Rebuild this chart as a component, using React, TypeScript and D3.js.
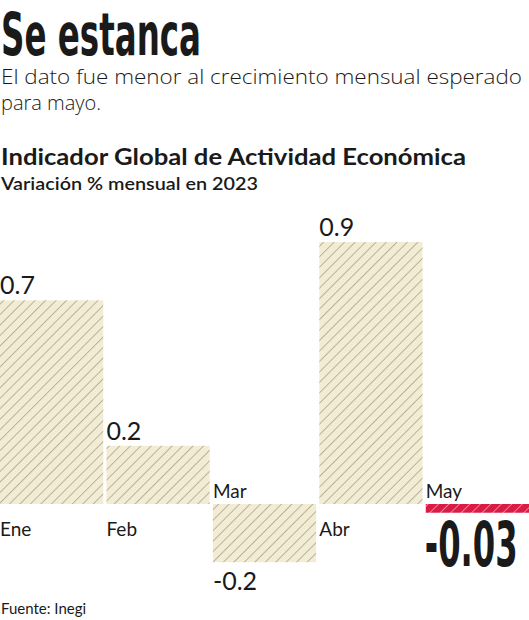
import React, { useEffect, useRef } from "react";
import * as d3 from "d3";

const months = ["Ene", "Feb", "Mar", "Abr", "May"];
const values = [0.7, 0.2, -0.2, 0.9, -0.03];
const valueLabels = ["0.7", "0.2", "-0.2", "0.9", "-0.03"];
const highlight = "May";

const W = 529;
const H = 620;
const sans = "Lato, 'Open Sans', 'DejaVu Sans', sans-serif";
const light = "'Open Sans', Lato, 'DejaVu Sans', sans-serif";
const narrow = "'Liberation Sans Narrow', 'DejaVu Sans Condensed', sans-serif";

const App = () => {
  const ref = useRef(null);

  useEffect(() => {
    const svg = d3.select(ref.current);
    svg.html("");

    // patterns
    const defs = svg.append("defs");
    const mkPattern = (id: string, bg: string, fg: string) => {
      const p = defs
        .append("pattern")
        .attr("id", id)
        .attr("patternUnits", "userSpaceOnUse")
        .attr("width", 7.4)
        .attr("height", 7.4)
        .attr("patternTransform", "rotate(45)");
      p.append("rect").attr("width", 7.4).attr("height", 7.4).attr("fill", bg);
      p.append("line")
        .attr("x1", 0.5)
        .attr("x2", 0.5)
        .attr("y1", 0)
        .attr("y2", 7.4)
        .attr("stroke", fg)
        .attr("stroke-width", 0.9);
    };
    mkPattern("hatch", "#f3ecd4", "#b3ab96");
    mkPattern("hatchRed", "#d91b45", "#f1899c");

    // headings
    svg
      .append("text")
      .attr("x", 1)
      .attr("y", 55)
      .attr("font-family", narrow)
      .attr("font-weight", 700)
      .attr("font-size", 59)
      .attr("fill", "#1a1a1a")
      .attr("textLength", 200)
      .attr("lengthAdjust", "spacingAndGlyphs")
      .text("Se estanca");

    const sub = ["El dato fue menor al crecimiento mensual esperado", "para mayo."];
    const subLen = [521, 100];
    sub.forEach((s, i) => {
      svg
        .append("text")
        .attr("x", 1)
        .attr("y", 84 + i * 26)
        .attr("font-family", light)
        .attr("font-weight", 300)
        .attr("font-size", 20)
        .attr("fill", "#1a1a1a")
        .attr("textLength", subLen[i])
        .attr("lengthAdjust", "spacingAndGlyphs")
        .text(s);
    });

    svg
      .append("text")
      .attr("x", 1)
      .attr("y", 165)
      .attr("font-family", sans)
      .attr("font-weight", 700)
      .attr("font-size", 22)
      .attr("fill", "#1a1a1a")
      .attr("textLength", 465)
      .attr("lengthAdjust", "spacingAndGlyphs")
      .text("Indicador Global de Actividad Económica");

    svg
      .append("text")
      .attr("x", 1)
      .attr("y", 190)
      .attr("font-family", sans)
      .attr("font-weight", 600)
      .attr("font-size", 17)
      .attr("fill", "#1a1a1a")
      .attr("textLength", 257)
      .attr("lengthAdjust", "spacingAndGlyphs")
      .text("Variación % mensual en 2023");

    // scales
    const x: any = d3.scaleBand().domain(months).range([0, 529]).paddingInner(0.03).paddingOuter(0);
    const y = d3.scaleLinear().domain([-0.2, 0.9]).range([562.2, 242.1]);
    const y0 = y(0);

    const bar = svg.selectAll(".bar").data(months).join("g").attr("class", "bar");

    bar
      .append("rect")
      .attr("x", (d: any) => x(d))
      .attr("width", x.bandwidth())
      .attr("y", (d: any, i: number) => Math.min(y(values[i]), y0))
      .attr("height", (d: any, i: number) => Math.abs(y(values[i]) - y0))
      .attr("fill", (d: any) => (d === highlight ? "url(#hatchRed)" : "url(#hatch)"));

    // month labels
    bar
      .append("text")
      .attr("x", (d: any) => x(d))
      .attr("y", (d: any, i: number) => (values[i] >= 0 ? y0 + 32 : y0 - 6))
      .attr("font-family", sans)
      .attr("font-size", 19)
      .attr("fill", "#1a1a1a")
      .text((d: any) => d);

    // value labels
    bar
      .append("text")
      .attr("x", (d: any) => x(d) - (d === highlight ? 1 : 0))
      .attr("y", (d: any, i: number) =>
        values[i] >= 0 ? y(values[i]) - 6 : d === highlight ? 566 : y(values[i]) + 28
      )
      .attr("font-family", (d: any) => (d === highlight ? narrow : sans))
      .attr("font-weight", (d: any) => (d === highlight ? 700 : 400))
      .attr("font-size", (d: any) => (d === highlight ? 62 : 25))
      .attr("fill", "#1a1a1a")
      .each(function (d: any) {
        if (d === highlight) {
          d3.select(this).attr("textLength", 93).attr("lengthAdjust", "spacingAndGlyphs");
        }
      })
      .text((d: any, i: number) => valueLabels[i]);

    // source
    svg
      .append("text")
      .attr("x", 1)
      .attr("y", 614)
      .attr("font-family", sans)
      .attr("font-size", 15)
      .attr("fill", "#1a1a1a")
      .text("Fuente: Inegi");
  }, []);

  return (
    <svg
      ref={ref}
      width={W}
      height={H}
      viewBox={`0 0 ${W} ${H}`}
      style={{ position: "absolute", left: 0, top: 0, background: "#fff" }}
    ></svg>
  );
};

export default App;
